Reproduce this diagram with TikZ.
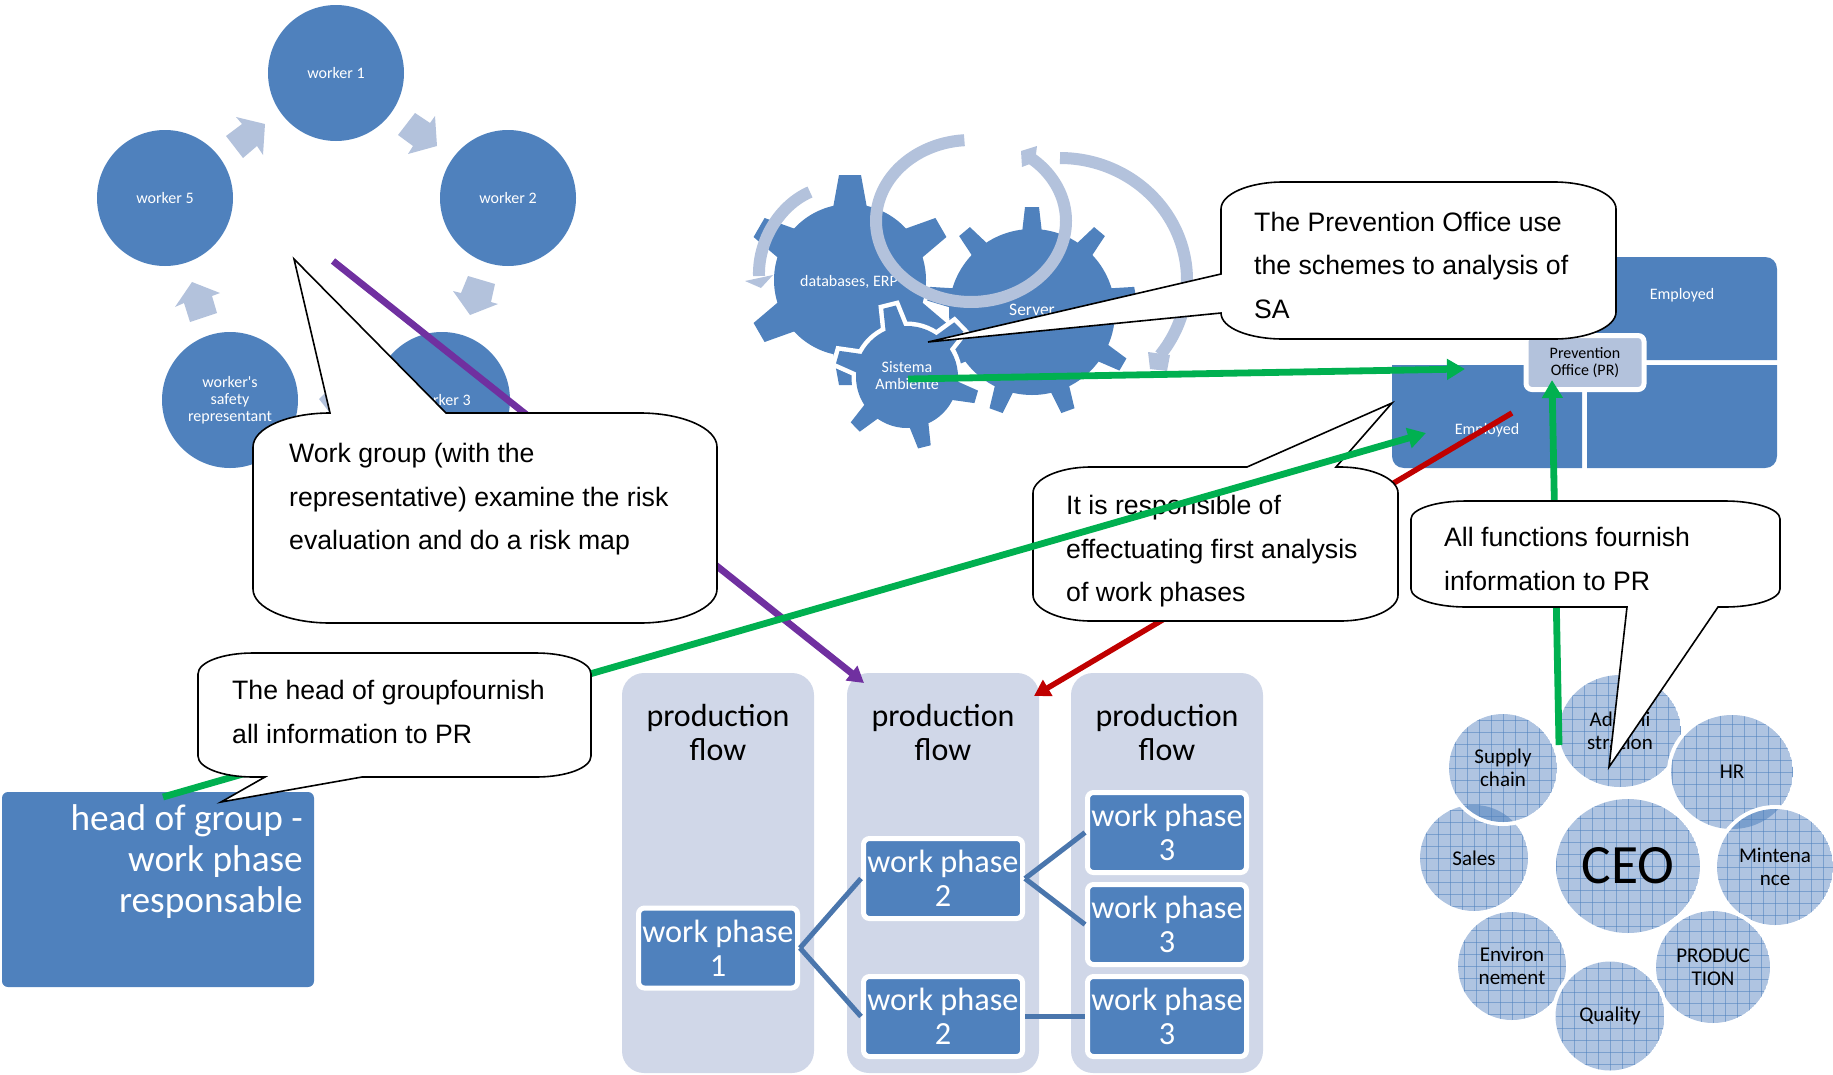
\documentclass[tikz,border=0pt]{standalone}
\usepackage{fontspec}
\setmainfont{Carlito}
\newfontfamily\callfont{Liberation Sans}
\usetikzlibrary{arrows.meta,calc}
\definecolor{mblue}{HTML}{4F81BD}
\definecolor{mlight}{HTML}{B3C2DC}
\definecolor{mcol}{HTML}{D0D7E8}
\definecolor{mhatch}{HTML}{AFC4E1}
\definecolor{mline}{HTML}{4A76AD}
\definecolor{mgreen}{HTML}{00B050}
\definecolor{mpurple}{HTML}{7030A0}
\definecolor{mred}{HTML}{C00000}
\newcommand{\hatched}[4]{%
  \draw[white,line width=8pt] (#1,#2) ellipse (#3pt and #4pt);
  \begin{scope}
    \clip (#1,#2) ellipse (#3pt and #4pt);
    \fill[mhatch] (#1,#2) ellipse (#3pt and #4pt);
    \foreach \gx in {-6,...,6} {\draw[mblue,opacity=.55,line width=.6pt] ({#1+12*\gx},{#2-#4}) -- ({#1+12*\gx},{#2+#4});}
    \foreach \gy in {-6,...,6} {\draw[mblue,opacity=.55,line width=.6pt] ({#1-#3},{#2+12*\gy}) -- ({#1+#3},{#2+12*\gy});}
  \end{scope}}
\newcommand{\lens}[8]{%
  \begin{scope}
    \clip (#1,#2) ellipse (#3pt and #4pt);
    \fill[mblue,opacity=.55] (#5,#6) ellipse (#7pt and #8pt);
  \end{scope}}
% centre x, centre y, body radius, tip radius, teeth, first angle, base half width, tip half width
\newcommand{\gearparts}[9]{%
  \path[#9] (#1,#2) circle (#3pt);
  \pgfmathsetmacro{\gstep}{360/#5}
  \foreach \gi in {1,...,#5} {
    \pgfmathsetmacro{\gang}{#6+(\gi-1)*\gstep}
    \path[#9,shift={(#1,#2)},rotate=\gang] (#3-4,-#7) -- (#4,-#8) -- (#4,#8) -- (#3-4,#7) -- cycle;
  }}
\tikzset{
  worker/.style={circle,fill=mblue,text=white,minimum size=136pt,inner sep=0pt,align=center,font={\fontsize{16}{17}\selectfont}},
  flowarrow/.style={fill=mlight},
  ring/.style={draw=mlight,line width=12pt},
  gearlabel/.style={text=white,align=center,inner sep=0pt,font={\fontsize{16}{17}\selectfont}},
  blocktext/.style={text=white,inner sep=0pt,font={\fontsize{16}{18}\selectfont}},
  colbox/.style={fill=mcol,rounded corners=22pt,minimum width=192pt,minimum height=400pt,inner sep=0pt},
  coltext/.style={align=center,inner sep=0pt,font={\fontsize{32}{34}\selectfont}},
  wpbox/.style={fill=mblue,draw=white,line width=5pt,rounded corners=6pt,minimum width=159pt,minimum height=80pt,inner sep=0pt,text=white,align=center,font={\fontsize{32.3}{34}\selectfont}},
  wplink/.style={draw=mline,line width=5pt},
  orgtext/.style={align=center,inner sep=0pt,font={\fontsize{21}{23}\selectfont}},
  greenline/.style={draw=mgreen,line width=6.8pt,-{Triangle[length=18pt,width=20pt]}},
  calloutshape/.style={draw=black,fill=white,line width=1.6pt,line join=miter},
  callouttext/.style={align=left,anchor=west,inner sep=0pt,font={\fontsize{26.65}{43.5}\selectfont\callfont}},
}
\begin{document}
\begin{tikzpicture}[x=1pt,y=-1pt]
\useasboundingbox (0,0) rectangle (1833,1074);
% worker cycle
\node[worker] (wk1) at (336,73) {worker 1};
\node[worker] (wk2) at (508,198) {worker 2};
\node[worker] (wk3) at (442,400) {worker 3};
\node[worker] (wks) at (230,400) {worker\textquotesingle s\\safety\\representant};
\node[worker] (wk5) at (165,198) {worker 5};
\fill[flowarrow] (415,113) -- (430,123) -- (435,116) -- (437,146) -- (408,154) -- (413,146) -- (398,135) -- cycle;
\fill[flowarrow] (468,276) -- (495,284) -- (491,302) -- (498,304) -- (470,315) -- (453,291) -- (461,293) -- cycle;
\fill[flowarrow] (326,392) -- (319,399) -- (330,413) -- (336,413) -- (336,392) -- cycle;
\fill[flowarrow] (190,322) -- (217,313) -- (212,296) -- (220,293) -- (192,282) -- (175,307) -- (184,303) -- cycle;
\fill[flowarrow] (226,136) -- (242,124) -- (236,117) -- (265,124) -- (263,155) -- (257,146) -- (243,158) -- cycle;
% gears
\gearparts{850}{280}{76}{105}{6}{30}{17}{11}{fill=mblue}
\gearparts{1032}{312}{83}{105}{9}{10}{10}{7}{fill=mblue}
\gearparts{907}{377}{51}{72}{6}{44}{10}{6.5}{draw=white,line width=9pt}
\gearparts{907}{377}{51}{72}{6}{44}{10}{6.5}{fill=mblue}
\node[gearlabel] (g1) at (849,282) {databases, ERP};
\node[gearlabel,font={\fontsize{17.5}{20}\selectfont}] (g2) at (1032,310) {Server};
\node[gearlabel] (g3) at (907,376) {Sistema\\Ambiente};
\draw[ring] (810,192) .. controls (780,205) and (758,240) .. (759,276);
\fill[mlight] (745,281) -- (773,275) -- (761,288) -- cycle;
\draw[ring] plot[domain=-94:-410,samples=90,smooth] ({971+95*cos(\x)},{221+81*sin(\x)});
\fill[mlight] (1021,151) -- (1037,146) -- (1035,162) -- (1022,167) -- cycle;
\draw[ring] plot[domain=-90:38,samples=50,smooth] ({1060+127*cos(\x)},{280+122*sin(\x)});
\fill[mlight] (1148,352) -- (1150,369) -- (1167,371) -- (1170,355) -- cycle;
% employed blocks
\fill[mblue] (1392,365) -- (1582,365) -- (1582,468) -- (1404,468) .. controls (1397,468) and (1392,463) .. (1392,456) -- cycle;
\fill[mblue] (1587,365) -- (1777,365) -- (1777,456) .. controls (1777,463) and (1772,468) .. (1765,468) -- (1587,468) -- cycle;
\fill[mblue] (1560,257) -- (1765,257) .. controls (1772,257) and (1777,262) .. (1777,269) -- (1777,360) -- (1560,360) -- cycle;
\node[blocktext] (e1) at (1682,295) {Employed};
\node[blocktext] (e2) at (1487,430) {Employed};
\node[fill=mlight,draw=white,line width=5pt,rounded corners=6pt,minimum width=118pt,minimum height=54pt,inner sep=0pt,align=center,font={\fontsize{16}{17.5}\selectfont}] (pr) at (1585,362.5) {Prevention\\Office (PR)};
% production flow
\node[colbox] (c1) at (718,873) {};
\node[colbox] (c2) at (943,873) {};
\node[colbox] (c3) at (1167,873) {};
\node[coltext] (t1) at (718,732) {production\\flow};
\node[coltext] (t2) at (943,732) {production\\flow};
\node[coltext] (t3) at (1167,732) {production\\flow};
\node[wpbox] (w1) at (718,948) {work phase\\1};
\node[wpbox] (w2a) at (943,878.5) {work phase\\2};
\node[wpbox] (w2b) at (943,1016.5) {work phase\\2};
\node[wpbox] (w3a) at (1167,832.5) {work phase\\3};
\node[wpbox] (w3b) at (1167,924.5) {work phase\\3};
\node[wpbox] (w3c) at (1167,1016.5) {work phase\\3};
\draw[wplink] (w1.east) -- (w2a.west);
\draw[wplink] (w1.east) -- (w2b.west);
\draw[wplink] (w2a.east) -- (w3a.west);
\draw[wplink] (w2a.east) -- (w3b.west);
\draw[wplink] (w2b.east) -- (w3c.west);
% organisation circles
\hatched{1474}{858}{54}{53}
\hatched{1512}{966}{54}{54}
\hatched{1620}{731}{61}{56}
\hatched{1732}{772}{61}{57}
\hatched{1775}{867}{58}{58}
\lens{1775}{867}{58}{58}{1732}{772}{61}{57}
\hatched{1713}{967}{57}{56}
\hatched{1610}{1016}{54.5}{54.5}
\hatched{1503}{768}{54}{54}
\lens{1503}{768}{54}{54}{1474}{858}{54}{53}
\hatched{1628}{866}{72}{67}
\node[orgtext,font={\fontsize{55.5}{58}\selectfont}] (ceo) at (1628,866) {CEO};
\node[orgtext] (o1) at (1620,731) {Admini\\stration};
\node[orgtext] (o2) at (1732,772) {HR};
\node[orgtext] (o3) at (1775,867) {Mintena\\nce};
\node[orgtext] (o4) at (1713,967) {PRODUC\\TION};
\node[orgtext] (o5) at (1610,1016) {Quality};
\node[orgtext] (o6) at (1512,966) {Environ\\nement};
\node[orgtext] (o7) at (1474,858) {Sales};
\node[orgtext] (o8) at (1503,768) {Supply\\chain};
% head of group
\node[fill=mblue,rounded corners=6pt,minimum width=312pt,minimum height=195pt,inner sep=0pt] (hg) at (158,889.5) {};
\node[text=white,align=right,anchor=east,inner sep=0pt,font={\fontsize{37.3}{41}\selectfont}] (hgt) at (303,862) {head of group -\\work phase\\responsable};
% coloured links
\coordinate (ps) at (333,261);
\coordinate (pe) at (864,683);
\coordinate (rs) at (1512,413);
\coordinate (re) at (1034,696);
\coordinate (gs1) at (908,379);
\coordinate (ge1) at (1465,369);
\coordinate (gs2) at (1559,745);
\coordinate (ge2) at (1552,380);
\coordinate (gs3) at (163,797);
\coordinate (ge3) at (1426,433);
\draw[draw=mpurple,line width=6.8pt,-{Triangle[length=16pt,width=18pt]}] (ps) -- (pe);
\draw[draw=mred,line width=5.5pt,-{Triangle[length=16pt,width=18pt]}] (rs) -- (re);
\draw[greenline] (gs1) -- (ge1);
\draw[greenline] (gs2) -- (ge2);
% callouts
\draw[calloutshape] (253,447) .. controls +(0,-19) and +(-42,0) .. (330,413) -- (294,259) -- (446,413) -- (640,413) .. controls +(42,0) and +(0,-19) .. (717,447) -- (717,589) .. controls +(0,19) and +(42,0) .. (640,623) -- (330,623) .. controls +(-42,0) and +(0,19) .. (253,589) -- cycle;
\node[callouttext] (ct1) at (289,499.5) {Work group (with the\\representative) examine the risk\\evaluation and do a risk map};
\draw[calloutshape] (1221,209) .. controls +(0,-15) and +(-34,0) .. (1283,182) -- (1554,182) .. controls +(34,0) and +(0,-15) .. (1616,209) -- (1616,312) .. controls +(0,15) and +(34,0) .. (1554,339) -- (1283,339) .. controls +(-34,0) and +(0,15) .. (1221,313) -- (928,342) -- (1221,274) -- cycle;
\node[callouttext] (ct2) at (1254,265) {The Prevention Office use\\the schemes to analysis of\\SA};
\draw[calloutshape] (1033,493) .. controls +(0,-14) and +(-32,0) .. (1091,467) -- (1247,467) -- (1392,403) -- (1336,467) -- (1340,467) .. controls +(32,0) and +(0,-14) .. (1398,493) -- (1398,595) .. controls +(0,14) and +(32,0) .. (1340,621) -- (1091,621) .. controls +(-32,0) and +(0,14) .. (1033,595) -- cycle;
\node[callouttext] (ct3) at (1066,551.5) {It is responsible of\\effectuating first analysis\\of work phases};
\draw[calloutshape] (1411,519) .. controls +(0,-10) and +(-30,0) .. (1466,501) -- (1725,501) .. controls +(30,0) and +(0,-10) .. (1780,519) -- (1780,589) .. controls +(0,10) and +(30,0) .. (1725,607) -- (1718,607) -- (1609,767) -- (1627,607) -- (1466,607) .. controls +(-30,0) and +(0,10) .. (1411,589) -- cycle;
\node[callouttext] (ct4) at (1444,559) {All functions fournish\\information to PR};
\draw[greenline] (gs3) -- (ge3);
\draw[calloutshape] (198,674) .. controls +(0,-12) and +(-30,0) .. (253,653) -- (536,653) .. controls +(30,0) and +(0,-12) .. (591,674) -- (591,756) .. controls +(0,12) and +(30,0) .. (536,777) -- (362,777) -- (221,802) -- (265,777) -- (253,777) .. controls +(-30,0) and +(0,12) .. (198,756) -- cycle;
\node[callouttext] (ct5) at (232,712) {The head of groupfournish\\all information to PR};
\end{tikzpicture}
\end{document}
